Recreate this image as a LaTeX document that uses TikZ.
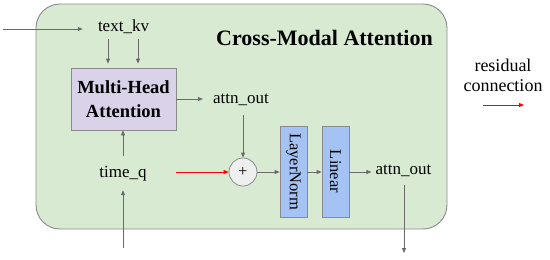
\documentclass[tikz,border=0pt]{standalone}
\usepackage{fontspec}
\setmainfont{Liberation Serif}
\usetikzlibrary{arrows.meta}
\definecolor{cmgreen}{HTML}{D9EAD3}
\definecolor{mhapurple}{HTML}{D9D2E9}
\definecolor{lnblue}{HTML}{A4C2F4}
\definecolor{circgray}{HTML}{EFEFEF}
\definecolor{edgegray}{HTML}{8A8A8A}
\definecolor{arrgray}{HTML}{6A6A6A}
\definecolor{resred}{HTML}{FF0000}
\begin{document}
\begin{tikzpicture}[x=1pt,y=-1pt,
  container/.style={draw=edgegray,line width=0.9pt,fill=cmgreen,rounded corners=24pt,minimum width=411pt,minimum height=225pt,inner sep=0pt},
  lbl/.style={inner sep=0pt,text height=12pt,text depth=3pt,font=\fontsize{17}{20}\selectfont},
  mhabox/.style={draw=edgegray,line width=0.8pt,fill=mhapurple,minimum width=105pt,minimum height=62pt,inner sep=0pt,align=center,font=\fontsize{18.5}{24}\selectfont\bfseries},
  vbox/.style={draw=edgegray,line width=0.8pt,fill=lnblue,minimum width=27pt,minimum height=91pt,inner sep=0pt},
  vtext/.style={rotate=-90,font=\fontsize{16.5}{18}\selectfont},
  addnode/.style={circle,draw=edgegray,line width=0.8pt,fill=circgray,minimum size=28pt,inner sep=0pt,font=\fontsize{16}{16}\selectfont},
  arr/.style={draw=arrgray,line width=0.8pt,-{Triangle[length=5pt,width=4pt]}},
  resarr/.style={draw=resred,line width=0.8pt,-{Triangle[length=5pt,width=4pt]}}
]
\useasboundingbox (0,0) rectangle (550,260);
\node[container] (cm) at (241.5,116.5) {};
\node[font=\fontsize{22}{24}\selectfont\bfseries,inner sep=0pt] (title) at (324.5,38) {Cross-Modal Attention};
\node[lbl] (kv) at (123.5,27) {text\_kv};
\node[mhabox] (mha) at (123.5,99) {Multi-Head\\Attention};
\node[lbl] (attnA) at (241,99) {attn\_out};
\node[lbl] (timeq) at (123,173) {time\_q};
\node[addnode] (add) at (243,172) {+};
\node[vbox] (ln) at (293.5,171.5) {};
\node[vtext] at (ln.center) {LayerNorm};
\node[vbox] (lin) at (335.5,171.5) {};
\node[vtext] at (lin.center) {Linear};
\node[lbl] (attnB) at (403.5,170) {attn\_out};
\node[font=\fontsize{18}{20}\selectfont,inner sep=0pt,align=center] (leg) at (503,75) {residual\\connection};
\coordinate (inK) at (3,29);
\coordinate (inT) at (123,248);
\coordinate (outB) at (404,253);
\coordinate (legA) at (483,105);
\coordinate (legB) at (524,105);
% connectors
\draw[arr,shorten >=15pt] (inK) -- (kv.west |- inK);
\draw[arr,shorten <=4.5pt,shorten >=4pt] ([xshift=-15.5pt]kv.south) -- ([xshift=-15.5pt]mha.north);
\draw[arr,shorten <=4.5pt,shorten >=4pt] ([xshift=14.5pt]kv.south) -- ([xshift=14.5pt]mha.north);
\draw[arr,shorten >=10pt] (mha.east) -- (attnA.west |- mha.east);
\draw[arr,shorten <=8.5pt] (add.north |- attnA.south) -- (add.north);
\draw[arr,shorten <=9pt] (timeq.north) -- (mha.south -| timeq.north);
\draw[arr,shorten >=9.5pt] (inT) -- (timeq.south);
\draw[resarr,shorten <=29pt] (timeq.east |- add.west) -- (add.west);
\draw[arr] (add.east) -- (ln.west |- add.east);
\draw[arr] (ln.east |- add.east) -- (lin.west |- add.east);
\draw[arr,shorten >=4pt] (lin.east |- add.east) -- (attnB.west |- add.east);
\draw[arr,shorten <=7.5pt] (attnB.south -| outB) -- (outB);
\draw[resarr] (legA) -- (legB);
\end{tikzpicture}
\end{document}
